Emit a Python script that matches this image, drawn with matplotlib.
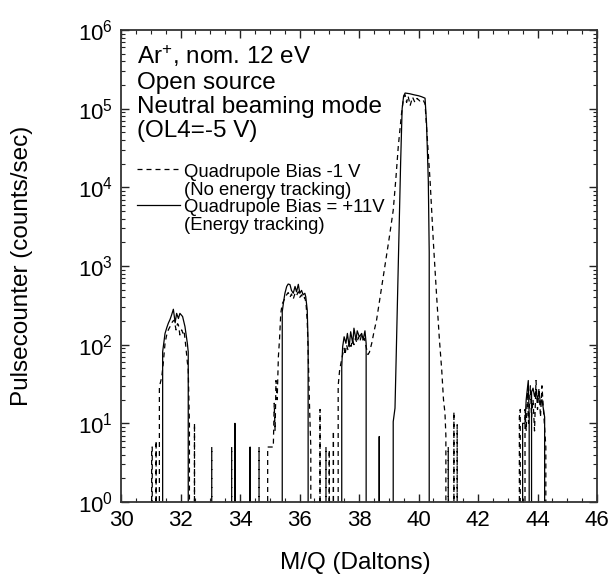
import numpy as np
import matplotlib
matplotlib.use('Agg')
import matplotlib.pyplot as plt
from matplotlib.ticker import MultipleLocator, FixedLocator, NullFormatter
from matplotlib.lines import Line2D

plt.rcParams['font.family'] = ['Liberation Sans', 'DejaVu Sans']
plt.rcParams['mathtext.fontset'] = 'custom'
plt.rcParams['mathtext.rm'] = 'Liberation Sans'
plt.rcParams['mathtext.it'] = 'Liberation Sans:italic'
plt.rcParams['mathtext.bf'] = 'Liberation Sans:bold'
plt.rcParams['mathtext.default'] = 'regular'

# ---------------- data (M/Q in Daltons, counts/sec; 0 = no counts) ----------------
dash_mz = [31.00, 31.03, 31.05, 31.07,
           31.16, 31.18, 31.20,
           31.27, 31.29, 31.37, 31.42, 31.48, 31.53, 31.59, 31.65, 31.70, 31.75, 31.79,
           31.85, 31.90, 31.93, 31.98, 32.04, 32.08, 32.12, 32.18, 32.23, 32.26, 32.30, 32.33,
           32.45, 32.47, 32.49,
           33.03, 33.05, 33.07,
           33.70, 33.72, 33.74,
           34.62, 34.64, 34.66,
           34.91, 34.93, 35.00, 35.07, 35.12, 35.15, 35.18, 35.21, 35.25, 35.29, 35.33,
           35.37, 35.42, 35.48, 35.55, 35.62, 35.68, 35.73, 35.79, 35.85, 35.90, 35.96,
           36.01, 36.07, 36.12, 36.18, 36.22, 36.26, 36.30, 36.34, 36.38, 36.41,
           36.67, 36.69, 36.71,
           36.87, 36.89, 36.91,
           36.98, 37.00, 37.02,
           37.12, 37.14, 37.16,
           37.28, 37.30, 37.35, 37.40, 37.45, 37.50, 37.53, 37.58, 37.63, 37.68, 37.73,
           37.78, 37.83, 37.88, 37.93, 37.98, 38.03, 38.08, 38.13, 38.18, 38.25, 38.30,
           38.35, 38.43, 38.51, 38.59, 38.73, 38.87, 39.01, 39.15, 39.24, 39.32, 39.43,
           39.50, 39.55, 39.60, 39.65, 39.72, 39.80, 39.88, 39.95, 40.05, 40.15, 40.22,
           40.30, 40.39, 40.50, 40.61, 40.70, 40.78, 40.84, 40.89, 40.92, 40.95,
           40.98, 41.00, 41.02,
           41.17, 41.19, 41.21,
           41.28, 41.30, 41.32,
           43.37, 43.39, 43.42, 43.45,
           43.55, 43.58, 43.62, 43.66, 43.70, 43.76, 43.80, 43.85, 43.90, 43.95, 44.00,
           44.05, 44.10, 44.15, 44.20, 44.28, 44.30]
dash_counts = [0, 5, 5, 0,
               0, 6, 0,
               0, 29, 39, 58, 104, 130, 154, 170, 188, 200, 205,
               154, 185, 178, 133, 154, 140, 150, 94, 60, 48, 10, 0,
               0, 10, 0,
               0, 5, 0,
               0, 5, 0,
               0, 5, 0,
               0, 5, 5, 5, 5, 18, 8, 35, 20, 70, 120,
               250, 330, 370, 420, 460, 400, 440, 380, 450, 420, 470,
               400, 430, 380, 400, 330, 200, 60, 15, 5, 0,
               0, 15, 0,
               0, 5, 0,
               0, 4.6, 0,
               0, 8, 0,
               0, 30, 48, 60, 75, 90, 74, 100, 85, 110, 95,
               115, 100, 120, 105, 125, 110, 130, 115, 120, 90, 75,
               80, 105, 150, 205, 450, 980, 2200, 5100, 13000, 33000, 87000,
               140000, 150000, 120000, 145000, 110000, 140000, 120000, 135000, 125000, 130000, 115000,
               40000, 12000, 2000, 410, 120, 48, 20, 13.5, 7, 0,
               0, 5, 0,
               0, 14, 0,
               0, 9.6, 0,
               0, 12, 15, 0,
               0, 15, 8, 25, 10, 30, 12, 20, 8, 35, 15,
               28, 12, 30, 15, 5, 0]

solid_mz = [31.38, 31.40, 31.48, 31.54, 31.59, 31.65, 31.70, 31.76, 31.82, 31.87, 31.93,
            31.98, 32.07, 32.15, 32.23, 32.26, 32.28,
            33.81, 33.83, 33.85,
            34.32, 34.34, 34.36,
            35.40, 35.42, 35.46, 35.51, 35.57, 35.62, 35.68, 35.73, 35.79, 35.85, 35.90,
            35.96, 36.01, 36.07, 36.12, 36.18, 36.21, 36.26, 36.29, 36.31,
            37.40, 37.42, 37.45, 37.50, 37.56, 37.61, 37.67, 37.72, 37.79, 37.83, 37.90,
            37.94, 38.01, 38.09, 38.14, 38.20, 38.24, 38.26,
            38.66, 38.68, 38.70,
            39.13, 39.15, 39.21, 39.25, 39.30, 39.35, 39.40, 39.45, 39.50, 39.55, 39.70,
            39.85, 40.00, 40.10, 40.22, 40.27, 40.33, 40.36, 40.38,
            43.48, 43.50, 43.58, 43.62, 43.69, 43.72, 43.74,
            43.78, 43.80, 43.85, 43.90, 43.95, 44.00, 44.05, 44.10, 44.15, 44.20, 44.24, 44.26]
solid_counts = [0, 81, 139, 165, 187, 210, 238, 282, 190, 250, 215,
                250, 228, 170, 104, 81, 0,
                0, 10, 0,
                0, 5, 0,
                0, 262, 340, 450, 550, 590, 580, 490, 450, 550, 470,
                585, 450, 490, 430, 450, 407, 276, 100, 0,
                0, 52, 94, 126, 104, 139, 94, 146, 104, 162, 115,
                150, 126, 139, 115, 150, 104, 0,
                0, 6.8, 0,
                0, 10.5, 15.6, 70, 480, 3200, 21000, 100000, 145000, 158000, 155000,
                150000, 146000, 142000, 136000, 65000, 12000, 1500, 0,
                0, 10, 10, 20, 35, 12, 0,
                0, 25, 28, 22, 26, 20, 25, 18, 20, 15, 12, 0]

x_ticks = [30, 32, 34, 36, 38, 40, 42, 44, 46]
y_exponents = [0, 1, 2, 3, 4, 5, 6]
info_lines = ["Ar$^{+}$, nom. 12 eV", "Open source", "Neutral beaming mode", "(OL4=-5 V)"]
legend_labels = [["Quadrupole Bias -1 V", "(No energy tracking)"],
                 ["Quadrupole Bias = +11V", "(Energy tracking)"]]
x_label = "M/Q (Daltons)"
y_label = "Pulsecounter (counts/sec)"

# ---------------- figure ----------------
W, H = 612, 581
fig = plt.figure(figsize=(W / 100, H / 100), dpi=100)
L, R, T, B = 121, 597, 30, 502
ax = fig.add_axes([L / W, 1 - B / H, (R - L) / W, (B - T) / H])

DASH = (0, (4, 3.2))
ax.plot(dash_mz, dash_counts, color='black', lw=0.9, linestyle=DASH)
ax.plot(solid_mz, solid_counts, color='black', lw=0.9)

ax.set_yscale('log')
ax.set_xlim(30, 46)
ax.set_xticks(x_ticks)
ax.xaxis.set_minor_locator(MultipleLocator(0.5))
y_major = [10.0 ** e for e in y_exponents]
ax.set_yticks(y_major)
ax.set_yticklabels([f"$10^{{{e}}}$" for e in y_exponents])
y_minor = [m * 10.0 ** e for e in y_exponents[:-1] for m in range(2, 10)]
ax.yaxis.set_minor_locator(FixedLocator(y_minor))
ax.yaxis.set_minor_formatter(NullFormatter())
ax.set_ylim(1, 1e6)

ax.tick_params(which='both', direction='in', top=True, right=True, colors='#222222')
ax.tick_params(which='major', length=6, width=1.0, labelsize=16, pad=6, labelcolor='black')
ax.tick_params(which='minor', length=3, width=0.8)
for s in ax.spines.values():
    s.set_linewidth(1.3)
    s.set_color('#333333')

def fx(px):
    return px / W

def fy(py):
    return 1 - py / H

# info text block
for txt, yb in zip(info_lines, [64, 88.5, 113, 137]):
    fig.text(fx(137), fy(yb), txt, fontsize=17.5, va='baseline', ha='left')

# legend (drawn manually to keep the two-line labels)
for (l1, l2), yb, ls in zip(legend_labels, [177, 212.5], [DASH, '-']):
    fig.text(fx(184), fy(yb), l1, fontsize=13.3, va='baseline', ha='left')
    fig.text(fx(184), fy(yb + 17.5), l2, fontsize=13.3, va='baseline', ha='left')
    fig.add_artist(Line2D([fx(137), fx(180)], [fy(yb - 8), fy(yb - 8)],
                          color='black', lw=0.9, linestyle=ls))

fig.text(fx(355), fy(569), x_label, fontsize=17.5, ha='center', va='baseline')
fig.text(fx(22), fy(266), y_label, fontsize=17.5, ha='center', va='center', rotation=90)

fig.savefig('out.png', dpi=100)
